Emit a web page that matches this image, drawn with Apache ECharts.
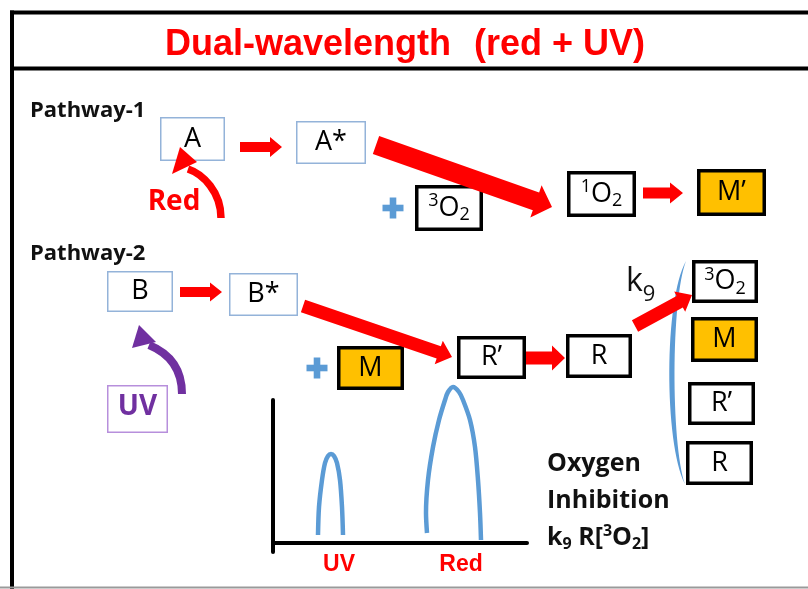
<!DOCTYPE html>
<html><head><meta charset="utf-8">
<script src="https://cdn.jsdelivr.net/npm/echarts@6/dist/echarts.min.js"></script>
<style>html,body{margin:0;padding:0;background:#fff}#c{width:808px;height:589px}</style>
</head><body><div id="c"></div>
<script>
// ---------- content ----------
const titleText = 'Dual-wavelength  (red + UV)';
const pathwayLabels = ['Pathway-1', 'Pathway-2'];
// species in boxes: [superscript, main, subscript]
const speciesLabels = [
  ['', 'A', ''], ['', 'A*', ''], ['3', 'O', '2'], ['1', 'O', '2'], ['', 'M’', ''],
  ['', 'B', ''], ['', 'B*', ''], ['', 'M', ''], ['', 'R’', ''], ['', 'R', ''],
  ['3', 'O', '2'], ['', 'M', ''], ['', 'R’', ''], ['', 'R', '']
];
// species kind: ground/excited state (light), reactive (dark), monomer (monomer)
const speciesKinds = ['light', 'light', 'dark', 'dark', 'monomer', 'light', 'light', 'monomer',
  'dark', 'dark', 'dark', 'monomer', 'dark', 'dark'];
const lightSources = ['Red', 'UV'];
const rateLabel = ['k', '9'];
const inhibitionLines = ['Oxygen', 'Inhibition'];
// emission spectrum sketch (inset): [x, intensity]
const uvPeak = [[45, 8], [46, 36], [49, 63], [52, 80], [55, 87], [58, 89], [61, 87], [64, 80], [67, 63], [69, 36], [70, 8]];
const redPeak = [[154, 10], [153, 30], [155, 63], [160, 96], [166, 123], [172, 143], [175, 151], [180, 156],
  [186, 151], [190, 143], [197, 123], [202, 96], [205, 63], [207, 30], [208, 3]];
const spectrumLabels = ['UV', 'Red'];
const spectrumLabelPos = [[66, -22], [188, -22]];

// ---------- layout (diagram space, 808 x 589) ----------
const boxLayout = [
  [160, 117, 225, 161], [296, 121, 366, 164], [415, 185, 483, 231], [567, 171, 636, 217], [697, 169, 766, 216],
  [107, 271, 173, 312], [229, 273, 298, 316], [337, 346, 404, 390], [457, 336, 526, 379], [566, 334, 632, 378],
  [692, 260, 758, 303], [691, 317, 758, 362], [688, 382, 755, 425], [686, 441, 753, 485]
];
const arrowLayout = [
  [240, 147, 282, 147, 5, 10, 12],
  [376, 145, 552, 207, 9.5, 17, 17],
  [643, 193, 683, 193, 5.5, 10.5, 13],
  [180, 292, 222, 292, 5, 9.5, 12],
  [303, 306, 452, 357, 6.5, 12.5, 14],
  [526, 358, 565, 358, 6.5, 12.5, 13],
  [635, 326, 692, 295, 6.5, 11.5, 14]
];
// curved arrows: tail, cp1, cp2, end, tip, corner1, corner2
const curvedLayout = [
  [221, 218, 221, 192, 203, 174, 188, 169, 180, 147, 172, 174, 197, 162],
  [182, 394, 182, 366, 166, 352, 149, 345, 139, 325, 132, 348, 156, 342]
];
const plusLayout = [[393, 208], [317, 368]];

const FF = '"Open Sans", "DejaVu Sans", sans-serif';
const FA = '"Liberation Sans", Arial, sans-serif';
const RED = '#ff0000', ORANGE = '#ffc000', BLUE = '#5b9bd5', PURPLE = '#7030a0';

const mctx = document.createElement('canvas').getContext('2d');
function tw(t, fs, fw, ff) { mctx.font = (fw || 'normal') + ' ' + fs + 'px ' + ff; return mctx.measureText(t).width; }
function segs(x, y, list, align, ff, color) {
  let total = 0;
  const ws = list.map(s => { const w = tw(s.t, s.fs, s.fw, ff); total += w; return w; });
  let cx = align === 'center' ? x - total / 2 : (align === 'right' ? x - total : x);
  return list.map((s, i) => {
    const el = { type: 'text', x: cx, y: y + (s.dy || 0), style: {
      text: s.t, fontSize: s.fs, fontWeight: s.fw || 'normal', fontFamily: ff,
      fill: s.color || color, align: 'left', verticalAlign: 'middle' } };
    cx += ws[i];
    return el;
  });
}
function P(api, x, y) { return api.coord([x, y]); }

function renderBox(params, api) {
  const i = params.dataIndex, r = boxLayout[i], kind = speciesKinds[i], lab = speciesLabels[i];
  const a = P(api, r[0], r[1]), b = P(api, r[2], r[3]);
  const lw = kind === 'light' ? 1.5 : 3.5;
  const stroke = kind === 'light' ? '#94b3d9' : '#000';
  const fill = kind === 'monomer' ? ORANGE : '#fff';
  const cx = (a[0] + b[0]) / 2, cy = (a[1] + b[1]) / 2;
  const list = [];
  if (lab[0]) list.push({ t: lab[0], fs: 18, dy: -7 });
  list.push({ t: lab[1], fs: 27, dy: 0 });
  if (lab[2]) list.push({ t: lab[2], fs: 18, dy: 7 });
  return { type: 'group', children: [
    { type: 'rect', shape: { x: a[0] + lw / 2, y: a[1] + lw / 2, width: b[0] - a[0] - lw, height: b[1] - a[1] - lw },
      style: { fill: fill, stroke: stroke, lineWidth: lw } },
    ...segs(cx, cy, list, 'center', FF, '#000')
  ] };
}
function renderArrow(params, api) {
  const d = arrowLayout[params.dataIndex];
  const s = P(api, d[0], d[1]), t = P(api, d[2], d[3]);
  const bw = d[4], hw = d[5], hl = d[6];
  const dx = t[0] - s[0], dy = t[1] - s[1], L = Math.hypot(dx, dy);
  const ux = dx / L, uy = dy / L, nx = -uy, ny = ux;
  const bx = t[0] - ux * hl, by = t[1] - uy * hl;
  const pts = [
    [s[0] + nx * bw, s[1] + ny * bw], [bx + nx * bw, by + ny * bw], [bx + nx * hw, by + ny * hw],
    [t[0], t[1]], [bx - nx * hw, by - ny * hw], [bx - nx * bw, by - ny * bw], [s[0] - nx * bw, s[1] - ny * bw]
  ];
  return { type: 'polygon', shape: { points: pts }, style: { fill: RED } };
}
function renderCurved(params, api) {
  const d = curvedLayout[params.dataIndex];
  const c = params.dataIndex === 0 ? RED : PURPLE;
  const p = [];
  for (let k = 0; k < 14; k += 2) p.push(P(api, d[k], d[k + 1]));
  return { type: 'group', children: [
    { type: 'bezierCurve', shape: { x1: p[0][0], y1: p[0][1], cpx1: p[1][0], cpy1: p[1][1], cpx2: p[2][0], cpy2: p[2][1], x2: p[3][0], y2: p[3][1] },
      style: { stroke: c, lineWidth: params.dataIndex === 0 ? 7.5 : 8, fill: null, lineCap: 'butt' } },
    { type: 'polygon', shape: { points: [p[4], p[5], p[6]] }, style: { fill: c } }
  ] };
}
function renderPlus(params, api) {
  const c = P(api, plusLayout[params.dataIndex][0], plusLayout[params.dataIndex][1]);
  const h = 10.5, t = 3.3;
  return { type: 'group', children: [
    { type: 'rect', shape: { x: c[0] - h, y: c[1] - t, width: 2 * h, height: 2 * t }, style: { fill: BLUE } },
    { type: 'rect', shape: { x: c[0] - t, y: c[1] - h, width: 2 * t, height: 2 * h }, style: { fill: BLUE } }
  ] };
}
function renderBracket(params, api) {
  const a = P(api, 686, 261), b = P(api, 685, 484);
  const o1 = P(api, 664, 300), o2 = P(api, 664, 442), i1 = P(api, 671, 300), i2 = P(api, 671, 442);
  const d = `M${a[0]} ${a[1]} C${o1[0]} ${o1[1]} ${o2[0]} ${o2[1]} ${b[0]} ${b[1]} C${i2[0]} ${i2[1]} ${i1[0]} ${i1[1]} ${a[0]} ${a[1]} Z`;
  return { type: 'path', shape: { pathData: d }, style: { fill: BLUE } };
}
function renderTexts(params, api) {
  const ch = [];
  const tParts = titleText.split('  ');
  let p = P(api, 165, 45);
  ch.push(...segs(p[0], p[1], [{ t: tParts[0], fs: 36, fw: 'bold' }], 'left', FA, RED));
  p = P(api, 645, 45);
  ch.push(...segs(p[0], p[1], [{ t: tParts[1], fs: 36, fw: 'bold' }], 'right', FA, RED));
  p = P(api, 30, 111);
  ch.push(...segs(p[0], p[1], [{ t: pathwayLabels[0], fs: 22, fw: 'bold' }], 'left', FF, '#111'));
  p = P(api, 30, 254);
  ch.push(...segs(p[0], p[1], [{ t: pathwayLabels[1], fs: 22, fw: 'bold' }], 'left', FF, '#111'));
  p = P(api, 174, 202);
  ch.push(...segs(p[0], p[1], [{ t: lightSources[0], fs: 28, fw: 'bold' }], 'center', FF, RED));
  // UV source box
  const u1 = P(api, 107, 385), u2 = P(api, 168, 433);
  ch.push({ type: 'rect', shape: { x: u1[0] + 0.75, y: u1[1] + 0.75, width: u2[0] - u1[0] - 1.5, height: u2[1] - u1[1] - 1.5 },
    style: { fill: '#fff', stroke: '#b78fdc', lineWidth: 1.5 } });
  p = P(api, 137.5, 407);
  ch.push(...segs(p[0], p[1], [{ t: lightSources[1], fs: 28, fw: 'bold' }], 'center', FF, PURPLE));
  // k9
  p = P(api, 626, 282);
  ch.push(...segs(p[0], p[1], [{ t: rateLabel[0], fs: 32 }, { t: rateLabel[1], fs: 22, dy: 13 }], 'left', FF, '#111'));
  // oxygen inhibition
  p = P(api, 547, 464);
  ch.push(...segs(p[0], p[1], [{ t: inhibitionLines[0], fs: 25, fw: 'bold' }], 'left', FF, '#111'));
  p = P(api, 547, 501);
  ch.push(...segs(p[0], p[1], [{ t: inhibitionLines[1], fs: 25, fw: 'bold' }], 'left', FF, '#111'));
  p = P(api, 547, 538);
  ch.push(...segs(p[0], p[1], [
    { t: rateLabel[0], fs: 25, fw: 'bold' }, { t: rateLabel[1], fs: 16, fw: 'bold', dy: 6 },
    { t: ' R[', fs: 25, fw: 'bold' }, { t: '3', fs: 16, fw: 'bold', dy: -7 },
    { t: 'O', fs: 25, fw: 'bold' }, { t: '2', fs: 16, fw: 'bold', dy: 6 }, { t: ']', fs: 25, fw: 'bold' }
  ], 'left', FF, '#111'));
  return { type: 'group', children: ch };
}
function renderSpecLabel(params, api) {
  const q = spectrumLabelPos[params.dataIndex];
  const p = api.coord(q);
  return { type: 'group', children: segs(p[0], p[1], [{ t: spectrumLabels[params.dataIndex], fs: 23, fw: 'bold' }], 'center', FA, RED) };
}

const chart = echarts.init(document.getElementById('c'), null, { renderer: 'canvas' });
chart.setOption({
  animation: false,
  backgroundColor: '#fff',
  grid: [{ left: 0, top: 0, width: 808, height: 589 }, { left: 273, top: 400, width: 254, height: 152 }],
  xAxis: [
    { type: 'value', min: 0, max: 808, show: false, gridIndex: 0 },
    { type: 'value', min: 0, max: 254, gridIndex: 1, axisLine: { show: true, onZero: true, lineStyle: { color: '#000', width: 4 } },
      axisTick: { show: false }, axisLabel: { show: false }, splitLine: { show: false } }
  ],
  yAxis: [
    { type: 'value', min: 0, max: 589, inverse: true, show: false, gridIndex: 0 },
    { type: 'value', min: -9, max: 143, gridIndex: 1, axisLine: { show: true, lineStyle: { color: '#000', width: 4 } },
      axisTick: { show: false }, axisLabel: { show: false }, splitLine: { show: false } }
  ],
  graphic: [
    { type: 'line', shape: { x1: 10, y1: 12.5, x2: 808, y2: 12.5 }, style: { stroke: '#000', lineWidth: 4 } },
    { type: 'line', shape: { x1: 12, y1: 10.5, x2: 12, y2: 589 }, style: { stroke: '#000', lineWidth: 4 } },
    { type: 'line', shape: { x1: 10, y1: 68.5, x2: 808, y2: 68.5 }, style: { stroke: '#000', lineWidth: 4 } },
    { type: 'line', shape: { x1: 0, y1: 587.5, x2: 808, y2: 587.5 }, style: { stroke: '#9a9a9a', lineWidth: 2 } }
  ],
  series: [
    { type: 'custom', xAxisIndex: 0, yAxisIndex: 0, z: 1, renderItem: renderBracket, data: [[0, 0]], silent: true },
    { type: 'custom', xAxisIndex: 0, yAxisIndex: 0, z: 2, renderItem: renderBox, data: boxLayout.map(r => [r[0], r[1]]), silent: true },
    { type: 'custom', xAxisIndex: 0, yAxisIndex: 0, z: 3, renderItem: renderArrow, data: arrowLayout.map(r => [r[0], r[1]]), silent: true },
    { type: 'custom', xAxisIndex: 0, yAxisIndex: 0, z: 3, renderItem: renderCurved, data: curvedLayout.map(r => [r[0], r[1]]), silent: true },
    { type: 'custom', xAxisIndex: 0, yAxisIndex: 0, z: 3, renderItem: renderPlus, data: plusLayout, silent: true },
    { type: 'custom', xAxisIndex: 0, yAxisIndex: 0, z: 4, renderItem: renderTexts, data: [[0, 0]], silent: true },
    { type: 'line', xAxisIndex: 1, yAxisIndex: 1, data: uvPeak, smooth: 0.3, symbol: 'none', clip: false,
      lineStyle: { color: BLUE, width: 4.5, cap: 'butt' }, silent: true },
    { type: 'line', xAxisIndex: 1, yAxisIndex: 1, data: redPeak, smooth: 0.3, symbol: 'none', clip: false,
      lineStyle: { color: BLUE, width: 4.5, cap: 'butt' }, silent: true },
    { type: 'custom', xAxisIndex: 1, yAxisIndex: 1, renderItem: renderSpecLabel, data: spectrumLabelPos, silent: true, clip: false }
  ]
});
</script></body></html>
